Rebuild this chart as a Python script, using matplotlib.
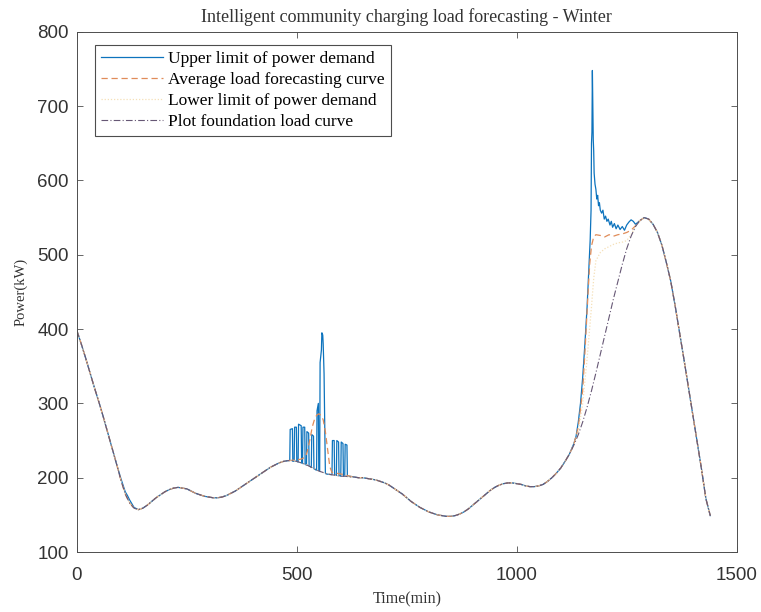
import numpy as np
import matplotlib
matplotlib.use("Agg")
import matplotlib.pyplot as plt

# ---------------- data ----------------
base_t = list(range(0, 1441, 10))
base_v = [398, 380, 361, 341, 321, 302, 282, 261, 240, 219,
          197, 178, 166, 159, 157, 159, 163, 168, 173, 177,
          181, 184, 186, 187, 186, 185, 182, 179, 177, 175,
          174, 173, 173, 174, 176, 179, 182, 186, 190, 194,
          198, 202, 206, 210, 214, 217, 220, 222, 223, 223,
          222, 220, 218, 215, 212, 209, 207, 205, 204, 203,
          202, 202, 201, 201, 200, 200, 199, 198, 197, 195,
          193, 190, 186, 182, 178, 173, 168, 164, 160, 157,
          154, 152, 150, 149, 148, 148, 149, 151, 154, 158,
          163, 168, 173, 178, 183, 187, 190, 192, 193, 193,
          192, 191, 189, 188, 188, 189, 191, 195, 200, 206,
          213, 222, 232, 244, 258, 275, 295, 317, 341, 366,
          391, 416, 441, 464, 487, 508, 525, 538, 546, 550,
          548, 541, 530, 513, 490, 465, 432, 396, 360, 323,
          286, 249, 212, 172, 149]

# early-morning small deviations of the upper limit
early_up_t = [90, 100, 105, 110, 115, 120, 125, 130, 140]
early_up_v = [219, 199, 190, 181, 176, 170, 165, 160, 157]

# midday charging event (upper limit)
mid_up_t = [480, 484, 485, 490, 491, 494, 495, 499, 500, 503, 504, 510, 511,
            513, 514, 518, 519, 522, 523, 527, 528, 533, 534, 538, 539, 545,
            546, 549, 550, 552, 553, 556, 557, 559, 560, 561, 562, 563, 564,
            565, 567, 580, 581, 585, 586, 590, 591, 595, 596, 600, 601, 605,
            606, 609, 610, 614, 615, 620]
mid_up_v = [223, 223, 265, 266, 222, 222, 268, 268, 222, 221, 272, 270, 220,
            219, 268, 268, 218, 217, 262, 260, 216, 214, 258, 256, 212, 210,
            290, 300, 210, 209, 355, 372, 395, 392, 380, 362, 340, 300, 250,
            206, 205, 204, 250, 250, 204, 203, 250, 248, 203, 202, 248, 246,
            202, 202, 245, 244, 202, 202]

# midday event (average forecast)
mid_avg_t = [480, 500, 510, 520, 525, 530, 535, 540, 545, 550, 555, 560,
             565, 570, 575, 580, 590, 600, 610, 620]
mid_avg_v = [223, 224, 225, 228, 238, 252, 268, 278, 284, 286, 284, 278,
             262, 238, 215, 207, 206, 205, 204, 202]

# evening event (upper limit)
eve_up_t = [1120, 1130, 1135, 1140, 1145, 1150, 1155, 1160, 1164, 1167, 1169,
            1170, 1171, 1172, 1173, 1174, 1175, 1176, 1178, 1180, 1182, 1184,
            1186, 1188, 1190, 1193, 1196, 1199, 1202, 1205, 1208, 1212, 1215,
            1218, 1222, 1226, 1230, 1235, 1240, 1245, 1250, 1255, 1260, 1265,
            1270, 1280]
eve_up_v = [232, 246, 256, 275, 300, 335, 380, 430, 480, 520, 560,
            650, 665, 748, 700, 655, 640, 610, 595, 588, 575, 580,
            566, 570, 560, 556, 560, 548, 552, 545, 548, 540, 545,
            537, 542, 535, 540, 534, 538, 533, 540, 544, 547, 545,
            541, 546]

# evening event (average forecast)
eve_avg_t = [1120, 1130, 1140, 1150, 1155, 1160, 1163, 1166, 1170, 1175,
             1180, 1190, 1200, 1210, 1220, 1230, 1240, 1250, 1260, 1270, 1280]
eve_avg_v = [232, 245, 268, 318, 368, 425, 458, 488, 512, 524,
             527, 526, 524, 527, 525, 527, 528, 530, 533, 539, 546]

# evening event (lower limit)
eve_low_t = [1120, 1130, 1140, 1150, 1160, 1170, 1175, 1180, 1190, 1200,
             1210, 1220, 1230, 1240, 1250, 1260, 1270, 1280]
eve_low_v = [232, 244, 262, 300, 360, 430, 468, 492, 503, 508,
             511, 514, 516, 517, 519, 527, 538, 546]

labels = ["Upper limit of power demand", "Average load forecasting curve",
          "Lower limit of power demand", "Plot foundation load curve"]
xticks = [0, 500, 1000, 1500]
yticks = [100, 200, 300, 400, 500, 600, 700, 800]


def merge(bt, bv, segs):
    """Replace base samples by event samples inside each event window."""
    t = np.array(bt, float)
    v = np.array(bv, float)
    for st, sv in segs:
        st = np.array(st, float)
        sv = np.array(sv, float)
        keep = (t < st[0]) | (t > st[-1])
        t = np.concatenate([t[keep], st])
        v = np.concatenate([v[keep], sv])
        o = np.argsort(t, kind="stable")
        t, v = t[o], v[o]
    return t, v


up_t, up_v = merge(base_t, base_v, [(early_up_t, early_up_v),
                                    (mid_up_t, mid_up_v),
                                    (eve_up_t, eve_up_v)])
avg_t, avg_v = merge(base_t, base_v, [(mid_avg_t, mid_avg_v),
                                      (eve_avg_t, eve_avg_v)])
low_t, low_v = merge(base_t, base_v, [(eve_low_t, eve_low_v)])

# ---------------- plot ----------------
fig = plt.figure(figsize=(7.61, 6.12), dpi=100)
ax = fig.add_axes([0.101, 0.098, 0.867, 0.850])

c_up = (0.05, 0.45, 0.74)
c_avg = (0.88, 0.55, 0.35)
c_low = (0.96, 0.88, 0.72)
c_base = (0.40, 0.34, 0.46)

ax.plot(up_t, up_v, color=c_up, lw=0.9, label=labels[0])
ax.plot(avg_t, avg_v, color=c_avg, lw=0.9, ls=(0, (5, 3)), label=labels[1])
ax.plot(low_t, low_v, color=c_low, lw=0.9, ls=(0, (1, 1.5)), label=labels[2])
ax.plot(base_t, base_v, color=c_base, lw=0.8, ls=(0, (6, 2, 1, 2)), label=labels[3])

ax.set_xlim(0, 1500)
ax.set_ylim(100, 800)
ax.set_xticks(xticks)
ax.set_yticks(yticks)
ax.tick_params(direction="in", top=True, right=True, length=4, width=0.6,
               labelsize=13.5, colors=(0.3, 0.3, 0.3))
ax.tick_params(axis="x", pad=11)
ax.tick_params(axis="y", pad=6)
for lab in ax.get_xticklabels() + ax.get_yticklabels():
    lab.set_family("Liberation Sans")
    lab.set_color((0.2, 0.2, 0.2))
for s in ax.spines.values():
    s.set_linewidth(0.7)
    s.set_color((0.3, 0.3, 0.3))

serif = "Liberation Serif"
ax.set_title("Intelligent community charging load forecasting - Winter",
             fontsize=13, family=serif, color=(0.2, 0.2, 0.2), pad=7)
ax.set_xlabel("Time(min)", fontsize=11.5, family=serif, color=(0.2, 0.2, 0.2), labelpad=5)
ax.set_ylabel("Power(kW)", fontsize=10.5, family=serif, color=(0.2, 0.2, 0.2), labelpad=7)

leg = ax.legend(loc="upper left", bbox_to_anchor=(0.027, 0.975), borderaxespad=0,
                prop={"family": serif, "size": 12.5}, handlelength=3.6,
                labelspacing=0.28, handletextpad=0.3, borderpad=0.35,
                fancybox=False, framealpha=1)
leg.get_frame().set_edgecolor((0.3, 0.3, 0.3))
leg.get_frame().set_linewidth(0.8)

fig.savefig("out.png", dpi=100)
